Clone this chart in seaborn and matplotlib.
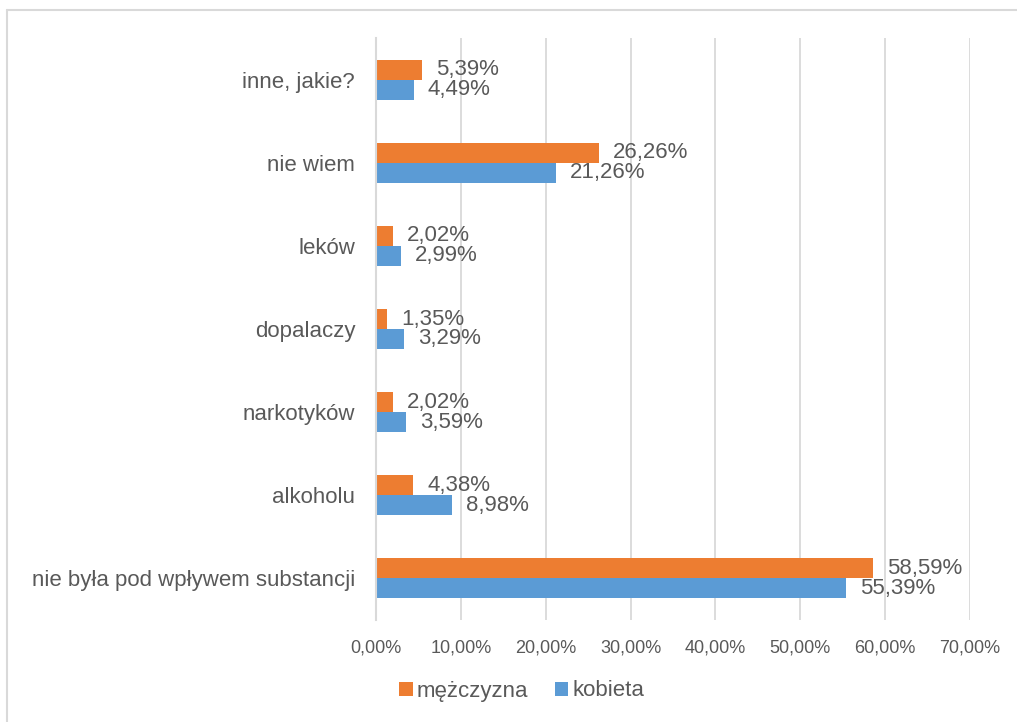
import matplotlib
matplotlib.use("Agg")
import matplotlib.pyplot as plt
import pandas as pd
import seaborn as sns
from matplotlib.lines import Line2D

sns.set_theme(style="white")
plt.rcParams['font.family'] = ['Liberation Sans', 'DejaVu Sans']

categories = ["inne, jakie?", "nie wiem", "leków", "dopalaczy", "narkotyków",
              "alkoholu", "nie była pod wpływem substancji"]
men = [5.39, 26.26, 2.02, 1.35, 2.02, 4.38, 58.59]
women = [4.49, 21.26, 2.99, 3.29, 3.59, 8.98, 55.39]
series = ["mężczyzna", "kobieta"]
colors = ["#ED7D31", "#5B9BD5"]
xticks = [0, 10, 20, 30, 40, 50, 60, 70]

df = pd.DataFrame({
    "kategoria": categories * 2,
    "płeć": [series[0]] * len(categories) + [series[1]] * len(categories),
    "wartość": men + women,
})

text_color = "#595959"
grid_color = "#d9d9d9"

fig = plt.figure(figsize=(10.17, 7.22), dpi=100)
ax = fig.add_axes([376 / 1017, 1 - 620 / 722, (970 - 376) / 1017, (620 - 38) / 722])

sns.barplot(data=df, y="kategoria", x="wartość", hue="płeć", hue_order=series,
            palette=colors, orient="h", width=0.48, saturation=1, ax=ax,
            legend=True, linewidth=0, errorbar=None)

for cont in ax.containers:
    ax.bar_label(cont, labels=[f"{v:.2f}%".replace(".", ",") for v in cont.datavalues],
                 padding=10, fontsize=16, color=text_color)

ax.set_xlim(0, 70)
ax.set_xticks(xticks)
ax.set_xticklabels([f"{v:.2f}%".replace(".", ",") for v in xticks], fontsize=13, color=text_color)
ax.tick_params(axis="y", labelsize=16, labelcolor=text_color, length=0, pad=15)
ax.tick_params(axis="x", length=0, pad=14)
ax.set_xlabel("")
ax.set_ylabel("")
ax.xaxis.grid(True, color=grid_color, linewidth=1.3)
ax.set_axisbelow(True)
for s in ["top", "right", "bottom"]:
    ax.spines[s].set_visible(False)
ax.spines["left"].set_color(grid_color)
ax.spines["left"].set_linewidth(1.5)

handles, labels = ax.get_legend_handles_labels()
ax.legend_.remove()
fig.legend(handles, labels, loc="center", bbox_to_anchor=(522 / 1017, 1 - 691 / 722),
           ncol=2, frameon=False, fontsize=16, handlelength=0.6, handleheight=0.6,
           handletextpad=0.2, columnspacing=1.2, labelcolor=text_color)

# outer chart border (top and left visible)
fig.add_artist(Line2D([7 / 1017, 1], [1 - 10 / 722, 1 - 10 / 722], color=grid_color, linewidth=1.5))
fig.add_artist(Line2D([7 / 1017, 7 / 1017], [0, 1 - 10 / 722], color=grid_color, linewidth=1.5))

fig.savefig("out.png", dpi=100)
